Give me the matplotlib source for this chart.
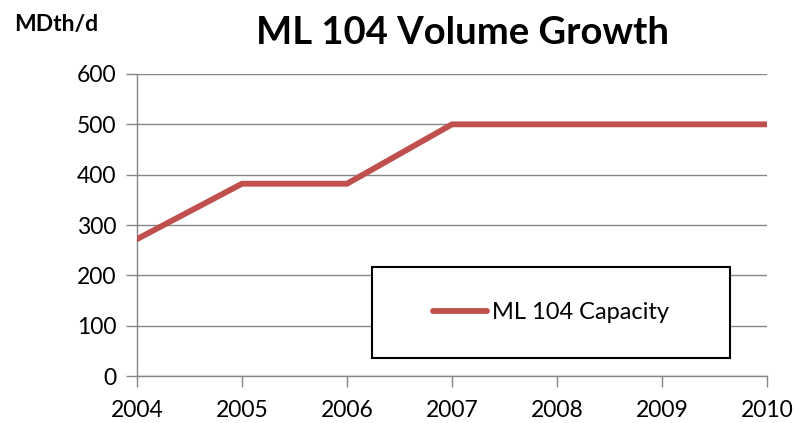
import matplotlib
matplotlib.use("Agg")
import matplotlib.pyplot as plt
from matplotlib.patches import Rectangle

years = [2004, 2005, 2006, 2007, 2008, 2009, 2010]
capacity = [272, 382, 382, 500, 500, 500, 500]
y_ticks = [0, 100, 200, 300, 400, 500, 600]

plt.rcParams['font.family'] = ['Lato', 'DejaVu Sans']

fig = plt.figure(figsize=(7.94, 4.23), dpi=100)
# axes placed by pixel measurements from the reference
ax = fig.add_axes([137 / 794, (423 - 376) / 423, (767 - 137) / 794, (376 - 74) / 423])

grey = '#868686'
ax.plot(years, capacity, color='#C0504D', linewidth=4.2, label='ML 104 Capacity',
        solid_capstyle='round', solid_joinstyle='miter', zorder=3)

ax.set_xlim(2004, 2010)
ax.set_ylim(0, 600)
ax.set_xticks(years)
ax.set_yticks(y_ticks)
ax.tick_params(axis='both', labelsize=16.5, color=grey, length=8, width=1, direction='out')
ax.tick_params(axis='x', pad=9)
ax.tick_params(axis='y', pad=7)
ax.yaxis.grid(True, color=grey, linewidth=1)
ax.set_axisbelow(True)
for s in ['top', 'right']:
    ax.spines[s].set_visible(False)
for s in ['left', 'bottom']:
    ax.spines[s].set_color(grey)
    ax.spines[s].set_linewidth(1)

# legend box
bx0, by0 = (372 - 137) / 630, (376 - 358) / 302
bw, bh = (730 - 372) / 630, (358 - 267) / 302
ax.add_patch(Rectangle((bx0, by0), bw, bh, transform=ax.transAxes, facecolor='white',
                       edgecolor='black', linewidth=1.5, zorder=4, clip_on=False))
leg = ax.legend(loc='center', bbox_to_anchor=(bx0, by0, bw, bh), frameon=False,
                fontsize=17, handlelength=2.3, handletextpad=0.2)
leg.set_zorder(5)

fig.text(462 / 794, 1 - 33 / 423, 'ML 104 Volume Growth', ha='center', va='center',
         fontsize=27.5, fontweight='bold')
fig.text(14 / 794, 1 - 25 / 423, 'MDth/d', ha='left', va='center',
         fontsize=16.5, fontweight='bold')

fig.savefig('out.png', dpi=100)
